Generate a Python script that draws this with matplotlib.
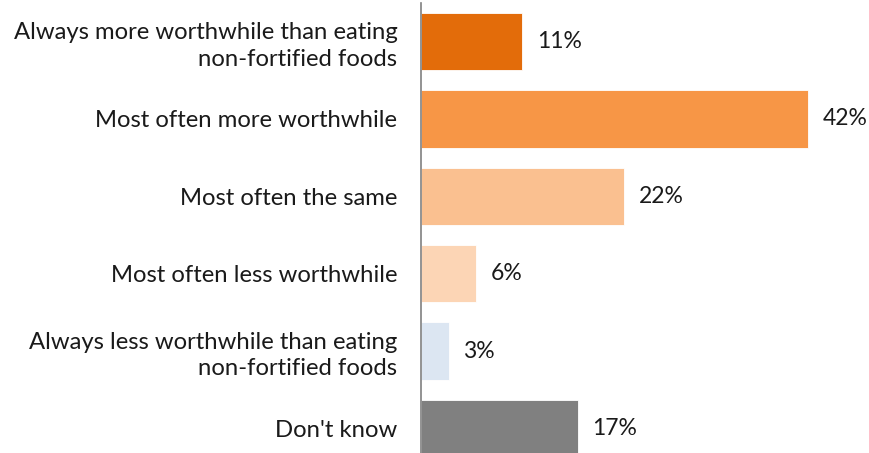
import matplotlib.pyplot as plt

# data
labels = [
    "Always more worthwhile than eating\nnon-fortified foods",
    "Most often more worthwhile",
    "Most often the same",
    "Most often less worthwhile",
    "Always less worthwhile than eating\nnon-fortified foods",
    "Don't know",
]
values = [11, 42, 22, 6, 3, 17]
colors = ["#E36C0A", "#F79646", "#FAC090", "#FCD5B5", "#DCE6F2", "#808080"]

plt.rcParams['font.family'] = ['Lato', 'DejaVu Sans']

fig = plt.figure(figsize=(8.69, 4.53), dpi=100)
ax = fig.add_axes([421 / 869, 0, (869 - 421) / 869, 1])

pos = list(range(len(values)))
ax.barh(pos, values, height=0.74, color=colors, edgecolor="white", linewidth=0.6)

for p, v in zip(pos, values):
    ax.text(v + 1.6, p, f"{v}%", va="center", ha="left", fontsize=16.5, color="#1a1a1a")

ax.set_xlim(0, 48.6)
ax.set_ylim(5.317, -0.536)
ax.set_yticks(pos)
ax.set_yticklabels(labels, fontsize=17.2, color="#1a1a1a", linespacing=1.3)
ax.tick_params(axis="y", length=0, pad=17)
ax.set_xticks([])

for s in ["top", "right", "bottom"]:
    ax.spines[s].set_visible(False)
ax.spines["left"].set_color("#808080")
ax.spines["left"].set_linewidth(1.2)
ax.spines["left"].set_bounds(5.317, -0.5)

fig.savefig("out.png", dpi=100)
